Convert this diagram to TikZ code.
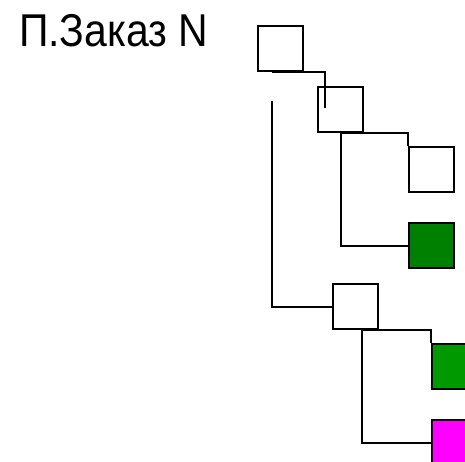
\documentclass[tikz,border=0pt]{standalone}
\usepackage{fontspec}
\setmainfont{Liberation Sans}
\usetikzlibrary{calc}
\definecolor{dkgreen}{RGB}{0,128,0}
\definecolor{mdgreen}{RGB}{0,153,0}
\definecolor{mymag}{RGB}{255,0,255}
\begin{document}
\begin{tikzpicture}[x=1pt,y=-1pt,
  box/.style={draw=black,line width=2pt,minimum width=45pt,minimum height=45pt,inner sep=0pt,anchor=north west,fill=#1},
  box/.default=white,
  conn/.style={draw=black,line width=2pt}]
\useasboundingbox (0,0) rectangle (465,461);
\node[anchor=base west,inner sep=0pt,font=\fontsize{46}{46}\selectfont,xscale=0.89,transform shape] (title) at (19,46) {П.Заказ N};
\node[box] (b1) at (257,25) {};
\node[box] (b2) at (317,86) {};
\node[box] (b3) at (408,146) {};
\node[box=dkgreen] (b4) at (408,222) {};
\node[box] (b5) at (332,283) {};
\node[box=mdgreen] (b6) at (431,343) {};
\node[box=mymag] (b7) at (431,419) {};
\coordinate (c1s) at ($(b1.south west)+(15,0)$);
\coordinate (c1e) at ($(b2.north west)+(8,22)$);
\coordinate (c2s) at (272,101);
\coordinate (c5s) at ($(b5.south west)+(30,0)$);
\draw[conn] (c1s) -| (c1e);
\draw[conn] (c2s) |- (b5.west);
\draw[conn] (b2.south) -| (b3.north west);
\draw[conn] (b2.south) |- (b4.west);
\draw[conn] (c5s) -| (b6.north west);
\draw[conn] (c5s) |- (b7.west);
\end{tikzpicture}
\end{document}
